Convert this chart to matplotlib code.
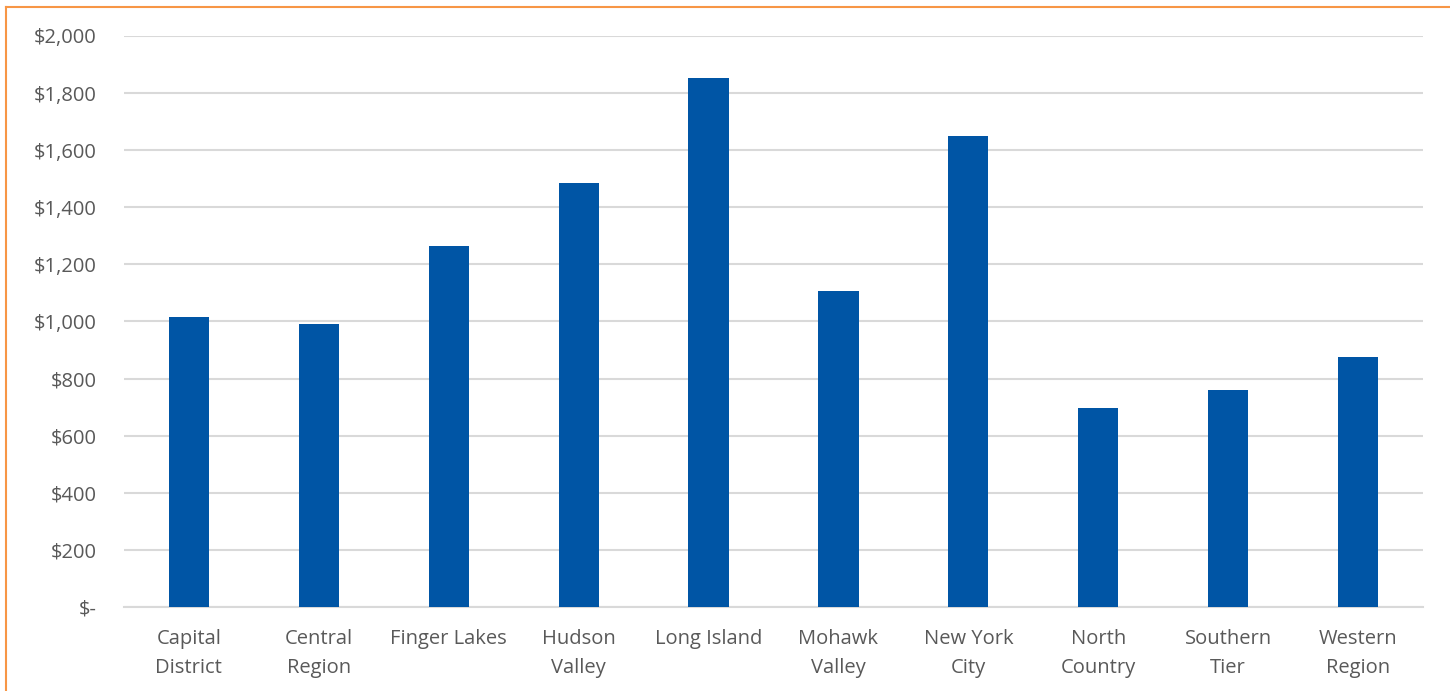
import matplotlib.pyplot as plt
from matplotlib.lines import Line2D
from matplotlib.ticker import FuncFormatter

regions = ['Capital\nDistrict', 'Central\nRegion', 'Finger Lakes', 'Hudson\nValley',
           'Long Island', 'Mohawk\nValley', 'New York\nCity', 'North\nCountry',
           'Southern\nTier', 'Western\nRegion']
values = [1015, 992, 1265, 1486, 1852, 1108, 1649, 698, 760, 874]
yticks = [0, 200, 400, 600, 800, 1000, 1200, 1400, 1600, 1800, 2000]

plt.rcParams['font.family'] = ['Open Sans', 'DejaVu Sans']

fig = plt.figure(figsize=(14.5, 6.91), dpi=100)
ax = fig.add_axes([0.0855, 0.1216, 0.8959, 0.8264])

x = range(len(regions))
ax.bar(x, values, width=0.31, color='#0055A5', zorder=3)

ax.set_xlim(-0.5, len(regions) - 0.5)
ax.set_ylim(0, 2000)
ax.set_yticks(yticks)


def money(v, pos):
    if v == 0:
        return '$-'
    return '${:,.0f}'.format(v)


ax.yaxis.set_major_formatter(FuncFormatter(money))
ax.set_xticks(list(x))
ax.set_xticklabels(regions, linespacing=1.6)
ax.grid(axis='y', color='#D9D9D9', linewidth=1.5, zorder=0)
ax.tick_params(axis='both', length=0, labelsize=14.5, colors='#595959')
ax.tick_params(axis='y', pad=19.5)
ax.tick_params(axis='x', pad=15.5)
for s in ['top', 'right', 'left']:
    ax.spines[s].set_visible(False)
ax.spines['bottom'].set_color('#D9D9D9')
ax.spines['bottom'].set_linewidth(1.5)

# orange frame lines
fig.add_artist(Line2D([6 / 1450, 6 / 1450], [0, 1 - 7 / 691], color='#F79646',
                      linewidth=1.5, transform=fig.transFigure))
fig.add_artist(Line2D([6 / 1450, 1], [1 - 7 / 691, 1 - 7 / 691], color='#F79646',
                      linewidth=1.5, transform=fig.transFigure))

fig.savefig('out.png', dpi=100, facecolor='white')
